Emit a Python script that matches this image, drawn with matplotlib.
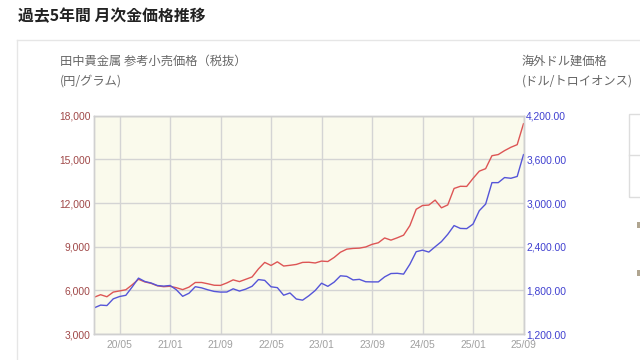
import numpy as np
import pandas as pd
from matplotlib import pyplot as plt
from matplotlib import ticker
from matplotlib.patches import Rectangle
from matplotlib.lines import Line2D

plt.rcParams['font.family'] = ['Noto Sans CJK JP', 'DejaVu Sans']

# monthly values, 2020/01 - 2025/09
months = pd.date_range('2020-01-01', periods=69, freq='MS')

# 田中貴金属 参考小売価格（税抜） 円/グラム
retail_jpy = [
    5530, 5700, 5560, 5880, 5960, 6040, 6380, 6760, 6580, 6480, 6310, 6250,
    6280, 6180, 6050, 6220, 6540, 6540, 6450, 6350, 6340, 6510, 6720, 6600,
    6760, 6920, 7470, 7920, 7710, 7960, 7670, 7720, 7780, 7920, 7930, 7880,
    8010, 7980, 8260, 8620, 8830, 8880, 8900, 8980, 9160, 9270, 9600, 9450,
    9610, 9790, 10450, 11570, 11830, 11860, 12200, 11670, 11870, 13000, 13150, 13140,
    13690, 14190, 14360, 15250, 15330, 15600, 15830, 16010, 17450,
]

# 海外ドル建価格 ドル/トロイオンス
overseas_usd = [
    1560, 1597, 1591, 1683, 1715, 1732, 1846, 1968, 1922, 1901, 1866, 1858,
    1867, 1808, 1718, 1760, 1850, 1834, 1807, 1785, 1776, 1777, 1821, 1790,
    1817, 1856, 1948, 1937, 1849, 1837, 1733, 1764, 1681, 1665, 1726, 1798,
    1898, 1855, 1913, 2000, 1992, 1943, 1951, 1918, 1916, 1916, 1985, 2031,
    2034, 2023, 2159, 2331, 2352, 2326, 2399, 2470, 2570, 2690, 2651, 2648,
    2710, 2895, 2985, 3280, 3280, 3350, 3340, 3365, 3665,
]

left_ticks = [3000, 6000, 9000, 12000, 15000, 18000]
right_ticks = [1200, 1800, 2400, 3000, 3600, 4200]

W, H = 640, 360
fig = plt.figure(figsize=(W / 100, H / 100), dpi=100)

def fx(px):
    return px / W

def fy(py):
    return 1 - py / H

# panel frame
fig.add_artist(Line2D([fx(17), fx(640)], [fy(40), fy(40)], color='#e6e6e6', lw=1))
fig.add_artist(Line2D([fx(17), fx(17)], [fy(40), fy(360)], color='#e6e6e6', lw=1))
# cut off table on the right
fig.add_artist(Rectangle((fx(629), fy(197)), fx(20), (197 - 114) / H, fill=False,
                         edgecolor='#dddddd', lw=1))
fig.add_artist(Line2D([fx(629), fx(640)], [fy(155), fy(155)], color='#dddddd', lw=1))
# fragments of notes cut by the right edge
for py in (225, 273):
    fig.add_artist(Rectangle((fx(637), fy(py + 3)), fx(3), 6 / H,
                             facecolor='#b0a590', edgecolor='none'))

fig.text(fx(18), fy(16), '過去5年間 月次金価格推移', fontsize=11.4, fontweight='bold',
         color='#222222', va='center', ha='left')
fig.text(fx(60), fy(61), '田中貴金属 参考小売価格（税抜）', fontsize=8.8, color='#666666',
         va='center', ha='left')
fig.text(fx(60), fy(81), '(円/グラム)', fontsize=8.8, color='#666666', va='center', ha='left')
fig.text(fx(521.5), fy(61), '海外ドル建価格', fontsize=8.8, color='#666666',
         va='center', ha='left')
fig.text(fx(521.5), fy(81), '(ドル/トロイオンス)', fontsize=8.8, color='#666666',
         va='center', ha='left')

left, right, top, bottom = 94.3, 523.5, 115.7, 334
ax = fig.add_axes([fx(left), fy(bottom), fx(right - left), (bottom - top) / H])
ax.set_facecolor('#fafaec')
ax2 = ax.twinx()

x = np.arange(len(months))
ax.plot(x, retail_jpy, color='#dd5555', lw=1.0)
ax2.plot(x, overseas_usd, color='#5555d8', lw=1.0)

ax.set_xlim(0, len(months) - 1)
ax.set_ylim(left_ticks[0], left_ticks[-1])
ax2.set_ylim(right_ticks[0], right_ticks[-1])

xt = x[4::8]
ax.set_xticks(xt)
ax.set_xticklabels([months[i].strftime('%y/%m') for i in xt])
ax.set_yticks(left_ticks)
ax2.set_yticks(right_ticks)
ax.yaxis.set_major_formatter(ticker.StrMethodFormatter('{x:,.0f}'))
ax2.yaxis.set_major_formatter(ticker.StrMethodFormatter('{x:,.2f}'))

ax.grid(True, color='#d4d4d4', lw=1)
ax.set_axisbelow(True)

tick_font = ['Liberation Sans', 'DejaVu Sans']
ax.tick_params(axis='x', length=0, pad=4, labelsize=7.4, labelcolor='#a0a0a0')
ax.tick_params(axis='y', length=0, pad=2.6, labelsize=7.4, labelcolor='#a04848')
ax2.tick_params(axis='y', length=0, pad=2, labelsize=7.4, labelcolor='#4040d0')
for lab in ax.get_xticklabels() + ax.get_yticklabels() + ax2.get_yticklabels():
    lab.set_family(tick_font)

for a in (ax, ax2):
    for s in a.spines.values():
        s.set_color('#d0d0d0')
        s.set_linewidth(1)

fig.savefig('out.png', dpi=100, facecolor='white')
